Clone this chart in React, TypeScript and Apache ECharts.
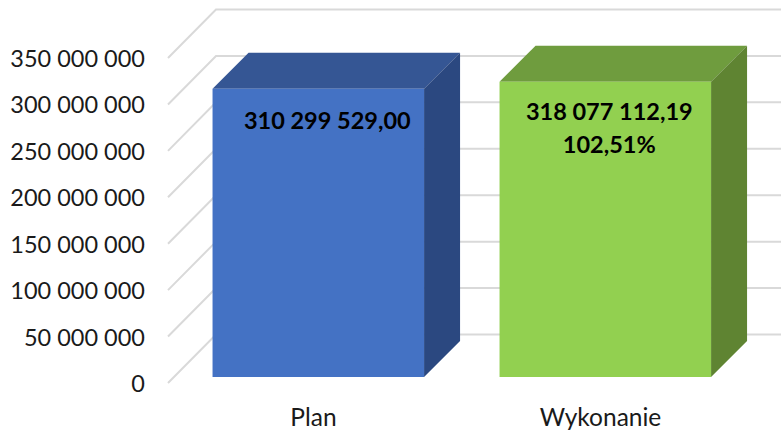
import React, { useEffect, useRef } from "react";
import * as echarts from "echarts";

const categories = ["Plan", "Wykonanie"];
const values = [310299529.0, 318077112.19];
const barLabels = ["310 299 529,00", "318 077 112,19\n102,51%"];
const ticks = [0, 50000000, 100000000, 150000000, 200000000, 250000000, 300000000, 350000000];
const frontColors = ["#4472c4", "#92d050"];
const topColors = ["#355694", "#6f9c3e"];
const sideColors = ["#2b4880", "#5f8432"];
const labelOffsetY = [15, 13];
const labelOffsetX = [9, 4];

const FONT = "Lato, Carlito, sans-serif";
const DEPTH = 36;
const WALL_DX = 48;
const WALL_DY = 48.5;
const BAR_SHIFT_X = 4.8;
const BAR_SHIFT_Y = -6;

const fmt = (v: number) => String(v).replace(/\B(?=(\d{3})+(?!\d))/g, " ");

export default function App() {
  const ref = useRef<HTMLDivElement>(null);
  useEffect(() => {
    document.body.style.margin = "0";
    const chart = echarts.init(ref.current!, null, { renderer: "svg" });
    chart.setOption({
      animation: false,
      backgroundColor: "#ffffff",
      grid: { left: 170, top: 58, width: 574, bottom: 48, containLabel: false },
      xAxis: {
        type: "category",
        data: categories,
        axisLine: { show: false },
        axisTick: { show: false },
        splitLine: { show: false },
        axisLabel: { color: "#1a1a1a", fontFamily: FONT, fontSize: 24.5, margin: 21 },
      },
      yAxis: {
        type: "value",
        min: 0,
        max: 350000000,
        interval: 50000000,
        axisLine: { show: false },
        axisTick: { show: false },
        splitLine: { show: false },
        axisLabel: {
          color: "#1a1a1a",
          fontFamily: FONT,
          fontSize: 23.5,
          margin: 25,
          formatter: (v: number) => fmt(v),
        },
      },
      series: [
        {
          type: "custom",
          silent: true,
          z: 1,
          data: ticks.map((t) => [0, t]),
          encode: { x: 0, y: 1 },
          renderItem: (_p: any, api: any) => {
            const y = api.coord([0, api.value(1)])[1];
            const x0 = 168;
            return {
              type: "polyline",
              shape: {
                points: [
                  [x0, y],
                  [x0 + WALL_DX, y - WALL_DY],
                  [781, y - WALL_DY],
                ],
              },
              style: { stroke: "#d9d9d9", lineWidth: 2, fill: "none" },
            };
          },
        },
        {
          type: "custom",
          silent: true,
          z: 2,
          data: values.map((v, i) => [i, v]),
          encode: { x: 0, y: 1 },
          renderItem: (_p: any, api: any) => {
            const i = api.value(0);
            const top = api.coord([i, api.value(1)]);
            const base = api.coord([i, 0]);
            const w = api.size([1, 0])[0] * 0.737;
            const xl = top[0] + BAR_SHIFT_X - w / 2;
            const xr = xl + w;
            const yt = top[1] + BAR_SHIFT_Y;
            const yb = base[1] + BAR_SHIFT_Y;
            return {
              type: "group",
              children: [
                {
                  type: "polygon",
                  shape: { points: [[xl, yt], [xl + DEPTH, yt - DEPTH], [xr + DEPTH, yt - DEPTH], [xr, yt]] },
                  style: { fill: topColors[i] },
                },
                {
                  type: "polygon",
                  shape: { points: [[xr, yt], [xr + DEPTH, yt - DEPTH], [xr + DEPTH, yb - DEPTH], [xr, yb]] },
                  style: { fill: sideColors[i] },
                },
                {
                  type: "rect",
                  shape: { x: xl, y: yt, width: w, height: yb - yt },
                  style: { fill: frontColors[i] },
                },
                {
                  type: "text",
                  x: (xl + xr) / 2 + labelOffsetX[i],
                  y: yt + labelOffsetY[i],
                  style: {
                    text: barLabels[i],
                    fill: "#000000",
                    font: `bold 23.5px ${FONT}`,
                    align: "center",
                    verticalAlign: "top",
                    lineHeight: 33,
                  },
                },
              ],
            };
          },
        },
      ],
    });
    return () => chart.dispose();
  }, []);
  return <div ref={ref} style={{ width: 781, height: 431 }} />;
}
